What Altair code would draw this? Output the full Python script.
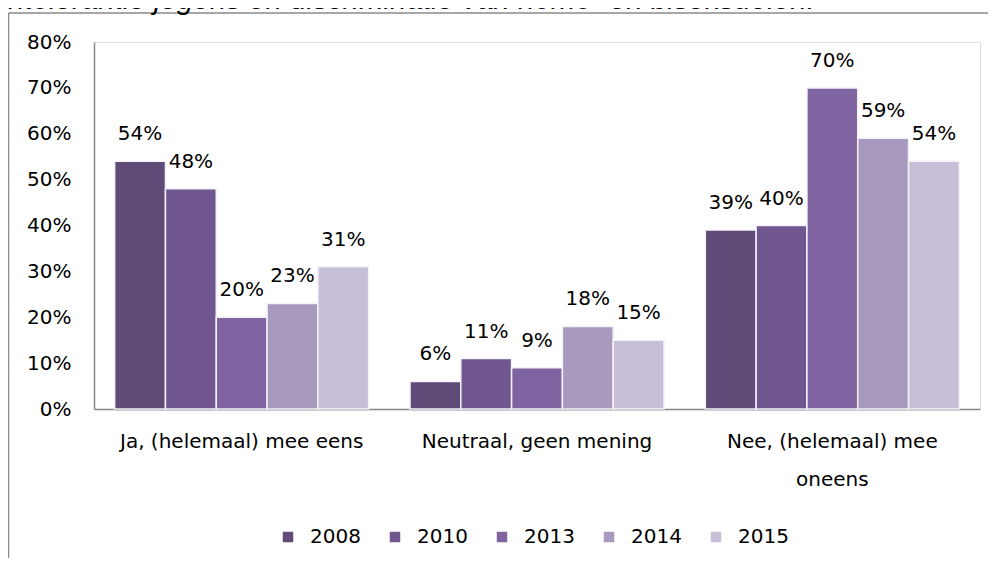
import altair as alt
import pandas as pd

categories = ["Ja, (helemaal) mee eens", "Neutraal, geen mening", "Nee, (helemaal) mee oneens"]
years = ["2008", "2010", "2013", "2014", "2015"]
values = {
    "2008": [0.54, 0.06, 0.39],
    "2010": [0.48, 0.11, 0.40],
    "2013": [0.20, 0.09, 0.70],
    "2014": [0.23, 0.18, 0.59],
    "2015": [0.31, 0.15, 0.54],
}
colors = ["#5f4a78", "#705790", "#8064a2", "#a899bf", "#c7bfd8"]
title_text = "intolerantie jegens en discriminatie van homo- en biseksuelen."

rows = []
for y in years:
    for c, v in zip(categories, values[y]):
        rows.append({"cat": c, "year": y, "value": v})
df = pd.DataFrame(rows)

FONT = "DejaVu Sans"
W, H = 886, 367

x_enc = alt.X("cat:N", sort=categories, title=None,
              scale=alt.Scale(paddingInner=0.14, paddingOuter=0.07),
              axis=alt.Axis(labelAngle=0, ticks=False, labelFont=FONT, labelFontSize=20,
                            labelColor="#000000", domainColor="#878787", domainWidth=1.5,
                            labelPadding=22, labelLineHeight=38, labelLimit=0,
                            labelExpr="datum.value == 'Nee, (helemaal) mee oneens' ? ['Nee, (helemaal) mee', 'oneens'] : datum.label"))
xo_enc = alt.XOffset("year:N", sort=years, scale=alt.Scale(paddingInner=0.0))
y_enc = alt.Y("value:Q", title=None,
              scale=alt.Scale(domain=[0, 0.8]),
              axis=alt.Axis(format=".0%", values=[0, 0.1, 0.2, 0.3, 0.4, 0.5, 0.6, 0.7, 0.8],
                            ticks=False, grid=False, labelFont=FONT, labelFontSize=20,
                            labelColor="#000000", domainColor="#878787", domainWidth=1.5,
                            labelPadding=23))

base = alt.Chart(df)

shadow = base.mark_bar(color="#000000", opacity=0.10, xOffset=2, yOffset=2).encode(
    x=x_enc, xOffset=xo_enc, y=y_enc)

bars = base.mark_bar(stroke="#f4f2f7", strokeWidth=1.5).encode(
    x=x_enc, xOffset=xo_enc, y=y_enc,
    color=alt.Color("year:N", sort=years, scale=alt.Scale(domain=years, range=colors),
                    legend=alt.Legend(orient="none", legendX=184, legendY=485,
                                      direction="horizontal", title=None, symbolType="square",
                                      symbolSize=110, symbolStrokeWidth=0, labelFont=FONT,
                                      labelFontSize=20, labelColor="#000000", columnPadding=24,
                                      labelOffset=12, padding=0)))

labels = base.mark_text(font=FONT, fontSize=20, color="#000000", baseline="middle", dy=-27).encode(
    x=x_enc, xOffset=xo_enc, y=y_enc, text=alt.Text("value:Q", format=".0%"))

title_mark = alt.Chart(pd.DataFrame({"t": [title_text]})).mark_text(
    font="Liberation Sans", fontStyle="italic", fontSize=29.5, align="right",
    baseline="alphabetic", color="#000000").encode(
    text="t:N", x=alt.value(721), y=alt.value(-33))

border_top = alt.Chart(pd.DataFrame({"a": [0]})).mark_rule(color="#8a8a8a", strokeWidth=1.5).encode(
    x=alt.value(-85.5), x2=alt.value(1000), y=alt.value(-29))
border_left = alt.Chart(pd.DataFrame({"a": [0]})).mark_rule(color="#8a8a8a", strokeWidth=1.5).encode(
    x=alt.value(-85.5), y=alt.value(-29), y2=alt.value(600))

chart = alt.layer(border_top, border_left, title_mark, shadow, bars, labels).properties(
    width=W, height=H,
    autosize=alt.AutoSizeParams(type="none"),
    padding={"left": 86, "top": 34, "right": 8, "bottom": 149},
).configure_view(stroke=None).configure(background="#ffffff")

chart.save("out.html", embed_options={"renderer": "svg", "actions": False})
